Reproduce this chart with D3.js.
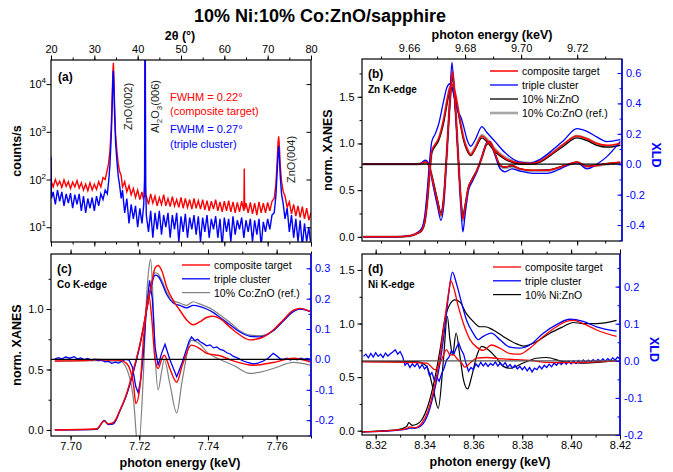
<!DOCTYPE html>
<html>
<head>
<meta charset="utf-8">
<script src="https://cdn.jsdelivr.net/npm/d3@7"></script>
<style>
  body { margin: 0; background: #fff; }
  text { font-family: "Liberation Sans", Arial, sans-serif; }
</style>
</head>
<body>
<svg id="chart" width="673" height="472"></svg>
<script>
// ---- data ----
const title = "10% Ni:10% Co:ZnO/sapphire";
const seriesNames = ["composite target", "triple cluster", "10% Ni:ZnO", "10% Co:ZnO (ref.)"];

// (a) XRD 2theta scan, [angle, counts/s]
const xrdComposite = [[20,95],[20.5,70],[21,100],[21.5,75],[22,92],[22.5,68],[23,98],[23.5,72],[24,90],[24.5,65],[25,88],[25.5,70],[26,95],[26.5,66],[27,85],[27.5,60],[28,80],[28.5,58],[29,85],[29.5,60],[30,80],[30.5,62],[31,90],[31.5,70],[32,110],[32.5,100],[33,160],[33.3,220],[33.6,400],[33.9,1200],[34.1,5000],[34.3,20000],[34.4,28000],[34.5,15000],[34.7,3000],[34.9,900],[35.2,400],[35.5,220],[35.8,150],[36.2,120],[36.5,70],[37,90],[37.5,55],[38,75],[38.5,48],[39,65],[39.5,42],[40,60],[40.5,38],[41,55],[41.3,40],[41.6,45],[41.7,30000],[41.8,45],[42,45],[42.5,30],[43,50],[43.5,32],[44,45],[44.5,28],[45,42],[45.5,30],[46,48],[46.5,28],[47,40],[47.5,27],[48,44],[48.5,28],[49,38],[49.5,26],[50,42],[50.5,25],[51,40],[51.5,26],[52,38],[52.5,24],[53,40],[53.5,25],[54,36],[54.5,24],[55,38],[55.5,23],[56,36],[56.5,22],[57,35],[57.5,24],[58,38],[58.5,22],[59,34],[59.5,21],[60,35],[60.5,22],[61,36],[61.5,21],[62,34],[62.5,20],[63,33],[63.5,21],[64,35],[64.5,22],[64.6,170],[64.7,24],[65,32],[65.5,20],[66,33],[66.5,19],[67,32],[67.5,18],[68,34],[68.5,20],[69,32],[69.5,20],[70,33],[70.5,22],[71,35],[71.5,40],[71.9,80],[72.2,250],[72.4,600],[72.55,800],[72.7,500],[72.9,200],[73.2,90],[73.6,55],[74,45],[74.5,26],[75,34],[75.5,19],[76,30],[76.5,17],[77,28],[77.5,16],[78,27],[78.5,15],[79,25],[79.5,14],[80,20]];
const xrdTriple = [[20,300],[20.1,40],[20.5,55],[21,30],[21.5,60],[22,35],[22.5,55],[23,28],[23.5,50],[24,32],[24.5,52],[25,25],[25.5,48],[26,30],[26.5,50],[27,22],[27.5,45],[28,20],[28.5,40],[29,25],[29.5,42],[30,22],[30.5,45],[31,28],[31.5,50],[32,38],[32.5,60],[33,50],[33.3,90],[33.6,200],[33.9,800],[34.1,3000],[34.3,15000],[34.4,19000],[34.5,9000],[34.7,2000],[34.9,600],[35.2,250],[35.5,120],[35.8,80],[36.2,40],[36.5,60],[37,20],[37.5,40],[38,12],[38.5,30],[39,15],[39.5,28],[40,10],[40.5,25],[41,12],[41.4,30],[41.6,100],[41.68,50000],[41.76,50000],[41.85,80],[42,18],[42.5,8],[43,22],[43.5,6],[44,20],[44.5,9],[45,22],[45.5,7],[46,18],[46.5,10],[47,20],[47.5,6],[48,18],[48.5,9],[49,20],[49.5,5],[50,17],[50.5,8],[51,19],[51.5,6],[52,16],[52.5,9],[53,18],[53.5,7],[54,17],[54.5,5],[55,16],[55.5,8],[56,18],[56.5,6],[57,15],[57.5,9],[58,17],[58.5,6],[59,15],[59.5,4],[60,16],[60.5,8],[61,15],[61.5,5],[62,17],[62.5,7],[63,14],[63.5,9],[64,16],[64.5,6],[65,14],[65.5,8],[66,15],[66.5,5],[67,14],[67.5,7],[68,15],[68.5,4],[69,13],[69.5,8],[70,15],[70.5,9],[71,18],[71.5,20],[71.9,45],[72.2,150],[72.4,350],[72.55,500],[72.7,300],[72.9,120],[73.2,50],[73.6,30],[74,15],[74.5,25],[75,8],[75.5,18],[76,6],[76.5,15],[77,5],[77.5,14],[78,4],[78.5,12],[79,5],[79.5,10],[80,4]];
const xrdAngleTicks = [20, 30, 40, 50, 60, 70, 80];
const xrdCountTicks = [10, 100, 1000, 10000];
const xrdPeakLabels = [["ZnO(002)", 34.4], ["Al2O3(006)", 41.7], ["ZnO(004)", 72.6]];
const fwhmComposite = ["FWHM = 0.22°", "(composite target)"];
const fwhmTriple = ["FWHM = 0.27°", "(triple cluster)"];

// (b) Zn K-edge, [keV, value]
const znXanesComposite = [[9.6437,0],[9.6556,0],[9.6604,0.01],[9.6627,0.035],[9.6645,0.07],[9.6657,0.18],[9.6665,0.39],[9.6673,0.68],[9.6681,0.92],[9.6693,0.99],[9.6705,1.05],[9.6723,1.25],[9.6735,1.45],[9.6746,1.6],[9.6755,1.63],[9.6764,1.55],[9.6776,1.35],[9.6785,1.2],[9.6795,1.05],[9.6806,0.95],[9.6820,0.88],[9.6836,0.95],[9.6860,1.08],[9.6877,1.04],[9.6907,0.93],[9.6943,0.84],[9.6996,0.79],[9.7032,0.785],[9.7068,0.81],[9.7104,0.88],[9.7151,0.99],[9.7199,1.08],[9.7235,1.05],[9.7270,1.0],[9.7306,0.98],[9.7354,1.0]];
const znXanesTriple = [[9.6437,0],[9.6556,0],[9.6604,0.012],[9.6627,0.04],[9.6645,0.09],[9.6657,0.25],[9.6665,0.5],[9.6673,0.8],[9.6681,1.02],[9.6693,1.1],[9.6705,1.2],[9.6723,1.45],[9.6735,1.6],[9.6746,1.64],[9.6755,1.58],[9.6764,1.45],[9.6776,1.33],[9.6785,1.28],[9.6795,1.18],[9.6806,1.05],[9.6820,0.97],[9.6836,1.04],[9.6860,1.18],[9.6877,1.12],[9.6907,1.02],[9.6943,0.9],[9.6996,0.8],[9.7032,0.79],[9.7068,0.83],[9.7104,0.91],[9.7151,1.03],[9.7199,1.16],[9.7235,1.13],[9.7270,1.07],[9.7306,1.02],[9.7354,1.04]];
const znXanesNi = [[9.6437,0],[9.6556,0],[9.6604,0.01],[9.6627,0.033],[9.6645,0.065],[9.6657,0.17],[9.6665,0.37],[9.6673,0.66],[9.6681,0.9],[9.6693,0.97],[9.6705,1.03],[9.6723,1.22],[9.6735,1.42],[9.6746,1.58],[9.6755,1.6],[9.6764,1.52],[9.6776,1.33],[9.6785,1.18],[9.6795,1.03],[9.6806,0.93],[9.6820,0.87],[9.6836,0.94],[9.6860,1.06],[9.6877,1.02],[9.6907,0.91],[9.6943,0.83],[9.6996,0.78],[9.7032,0.775],[9.7068,0.8],[9.7104,0.87],[9.7151,0.97],[9.7199,1.06],[9.7235,1.03],[9.7270,0.98],[9.7306,0.96],[9.7354,0.98]];
const znXanesCo = [[9.6437,0],[9.6556,0],[9.6604,0.01],[9.6627,0.035],[9.6645,0.07],[9.6657,0.18],[9.6665,0.38],[9.6673,0.67],[9.6681,0.91],[9.6693,0.98],[9.6705,1.04],[9.6723,1.24],[9.6735,1.44],[9.6746,1.6],[9.6755,1.62],[9.6764,1.54],[9.6776,1.35],[9.6785,1.2],[9.6795,1.05],[9.6806,0.95],[9.6820,0.89],[9.6836,0.96],[9.6860,1.09],[9.6877,1.05],[9.6907,0.94],[9.6943,0.85],[9.6996,0.8],[9.7032,0.79],[9.7068,0.82],[9.7104,0.89],[9.7151,0.99],[9.7199,1.08],[9.7235,1.05],[9.7270,1.0],[9.7306,0.97],[9.7354,0.99]];
const znXldComposite = [[9.6437,0],[9.6627,0],[9.6645,0.005],[9.6657,0.015],[9.6665,0.01],[9.6673,-0.02],[9.6687,-0.13],[9.6701,-0.24],[9.6714,-0.335],[9.6723,-0.24],[9.6735,0.09],[9.6746,0.42],[9.6755,0.61],[9.6764,0.42],[9.6776,0.03],[9.6785,-0.24],[9.6792,-0.36],[9.6800,-0.28],[9.6812,-0.15],[9.6824,-0.105],[9.6842,-0.04],[9.6860,0.048],[9.6877,0.136],[9.6889,0.147],[9.6907,0.07],[9.6925,-0.007],[9.6943,-0.018],[9.6967,-0.007],[9.6996,-0.03],[9.7044,-0.04],[9.7092,-0.04],[9.7140,-0.018],[9.7175,0.004],[9.7199,0.015],[9.7235,-0.015],[9.7270,-0.008],[9.7306,0.004],[9.7354,0.015]];
const znXldTriple = [[9.6437,0],[9.6627,0],[9.6645,0.01],[9.6657,0.026],[9.6665,0.02],[9.6673,-0.02],[9.6687,-0.15],[9.6701,-0.27],[9.6714,-0.37],[9.6723,-0.28],[9.6735,0.08],[9.6746,0.45],[9.6753,0.67],[9.6762,0.45],[9.6776,0.03],[9.6785,-0.28],[9.6792,-0.445],[9.6800,-0.33],[9.6812,-0.17],[9.6824,-0.12],[9.6842,-0.05],[9.6860,0.05],[9.6877,0.14],[9.6889,0.15],[9.6907,0.06],[9.6925,-0.03],[9.6943,-0.05],[9.6967,-0.03],[9.6996,-0.045],[9.7044,-0.06],[9.7092,-0.06],[9.7140,-0.03],[9.7175,0.0],[9.7199,0.01],[9.7235,-0.03],[9.7270,0.0],[9.7306,0.05],[9.7354,0.15]];
const znXldNi = [[9.6437,0],[9.6627,0],[9.6645,0.004],[9.6657,0.012],[9.6665,0.008],[9.6673,-0.02],[9.6687,-0.12],[9.6701,-0.23],[9.6714,-0.32],[9.6723,-0.23],[9.6735,0.08],[9.6746,0.4],[9.6755,0.57],[9.6764,0.4],[9.6776,0.03],[9.6785,-0.23],[9.6792,-0.34],[9.6800,-0.27],[9.6812,-0.15],[9.6824,-0.1],[9.6842,-0.04],[9.6860,0.045],[9.6877,0.13],[9.6889,0.14],[9.6907,0.065],[9.6925,-0.01],[9.6943,-0.02],[9.6967,-0.01],[9.6996,-0.03],[9.7044,-0.04],[9.7092,-0.038],[9.7140,-0.017],[9.7175,0.003],[9.7199,0.012],[9.7235,-0.012],[9.7270,-0.006],[9.7306,0.003],[9.7354,0.01]];
const znXldCo = [[9.6437,0],[9.6627,0],[9.6645,0.005],[9.6657,0.014],[9.6665,0.01],[9.6673,-0.02],[9.6687,-0.13],[9.6701,-0.25],[9.6714,-0.34],[9.6723,-0.25],[9.6735,0.08],[9.6746,0.42],[9.6755,0.6],[9.6764,0.42],[9.6776,0.03],[9.6785,-0.25],[9.6792,-0.37],[9.6800,-0.29],[9.6812,-0.16],[9.6824,-0.11],[9.6842,-0.045],[9.6860,0.045],[9.6877,0.135],[9.6889,0.145],[9.6907,0.065],[9.6925,-0.012],[9.6943,-0.025],[9.6967,-0.015],[9.6996,-0.035],[9.7044,-0.045],[9.7092,-0.045],[9.7140,-0.02],[9.7175,0.0],[9.7199,0.012],[9.7235,-0.015],[9.7270,-0.01],[9.7306,0.0],[9.7354,0.008]];
const znEnergyTicks = [9.66, 9.68, 9.70, 9.72];
const znXanesTicks = [0.0, 0.5, 1.0, 1.5];
const znXldTicks = [-0.4, -0.2, 0.0, 0.2, 0.4, 0.6];

// (c) Co K-edge
const coXanesComposite = [[7.6954,0],[7.7076,0.01],[7.7098,0.075],[7.7110,0.05],[7.7124,0.06],[7.7144,0.165],[7.7163,0.30],[7.7183,0.50],[7.7202,0.71],[7.7221,0.99],[7.7236,1.21],[7.7246,1.34],[7.7255,1.36],[7.7265,1.32],[7.7280,1.18],[7.7299,1.07],[7.7318,0.99],[7.7338,0.91],[7.7357,0.87],[7.7377,0.895],[7.7396,0.93],[7.7416,0.94],[7.7435,0.92],[7.7464,0.85],[7.7493,0.785],[7.7522,0.745],[7.7552,0.758],[7.7590,0.826],[7.7619,0.91],[7.7649,0.99],[7.7668,1.005],[7.7697,0.98]];
const coXanesTriple = [[7.6954,0],[7.7076,0.005],[7.7098,0.08],[7.7110,0.045],[7.7124,0.05],[7.7144,0.16],[7.7163,0.29],[7.7183,0.48],[7.7202,0.70],[7.7221,0.98],[7.7236,1.2],[7.7246,1.28],[7.7255,1.27],[7.7265,1.22],[7.7280,1.12],[7.7299,1.05],[7.7318,1.03],[7.7338,1.01],[7.7357,1.03],[7.7377,1.02],[7.7396,1.0],[7.7416,0.97],[7.7435,0.93],[7.7464,0.87],[7.7493,0.81],[7.7522,0.775],[7.7552,0.77],[7.7590,0.82],[7.7619,0.9],[7.7649,0.98],[7.7668,1.0],[7.7697,0.98]];
const coXanesCo = [[7.6954,0],[7.7076,0.005],[7.7098,0.07],[7.7110,0.045],[7.7124,0.05],[7.7144,0.16],[7.7163,0.29],[7.7183,0.49],[7.7202,0.71],[7.7221,0.99],[7.7236,1.22],[7.7246,1.3],[7.7255,1.29],[7.7265,1.24],[7.7280,1.14],[7.7299,1.07],[7.7318,1.05],[7.7338,1.03],[7.7357,1.06],[7.7377,1.04],[7.7396,1.02],[7.7416,0.99],[7.7435,0.95],[7.7464,0.89],[7.7493,0.82],[7.7522,0.785],[7.7552,0.78],[7.7590,0.82],[7.7619,0.9],[7.7649,0.98],[7.7668,1.0],[7.7697,0.98]];
const coXldComposite = [[7.6954,-0.005],[7.7037,-0.004],[7.7076,0.0],[7.7110,-0.002],[7.7144,-0.003],[7.7163,-0.013],[7.7183,-0.08],[7.7190,-0.145],[7.7202,-0.09],[7.7212,0.064],[7.7221,0.17],[7.7228,0.21],[7.7236,0.14],[7.7246,0.0],[7.7255,-0.03],[7.7265,0.0],[7.7273,0.014],[7.7289,-0.03],[7.7309,-0.075],[7.7325,-0.02],[7.7352,0.047],[7.7377,0.035],[7.7396,0.02],[7.7435,0.012],[7.7474,-0.005],[7.7532,-0.019],[7.7590,-0.01],[7.7649,0.004],[7.7697,-0.008]];
const coXldTriple = [[7.6954,0.002],[7.6965,0.006],[7.6975,0.001],[7.6985,0.008],[7.6998,0.004],[7.7010,0.009],[7.7020,0.002],[7.7030,0.005],[7.7040,-0.001],[7.7050,0.003],[7.7060,-0.003],[7.7070,0.001],[7.7080,-0.004],[7.7090,-0.002],[7.7100,-0.008],[7.7110,-0.006],[7.7120,-0.013],[7.7130,-0.009],[7.7140,-0.012],[7.7150,-0.005],[7.7160,0.0],[7.7170,-0.002],[7.7180,-0.025],[7.7190,-0.09],[7.7197,-0.11],[7.7205,-0.06],[7.7212,0.02],[7.7221,0.17],[7.7230,0.26],[7.7238,0.2],[7.7246,0.04],[7.7255,-0.02],[7.7265,0.02],[7.7275,0.05],[7.7289,0.0],[7.7309,-0.057],[7.7325,-0.01],[7.7345,0.06],[7.7352,0.074],[7.7362,0.062],[7.7370,0.066],[7.7377,0.058],[7.7387,0.052],[7.7396,0.045],[7.7406,0.048],[7.7416,0.038],[7.7426,0.041],[7.7435,0.033],[7.7445,0.03],[7.7455,0.022],[7.7465,0.018],[7.7474,0.01],[7.7484,0.006],[7.7494,0.0],[7.7505,-0.006],[7.7515,-0.01],[7.7532,-0.015],[7.7545,-0.012],[7.7560,-0.006],[7.7575,0.004],[7.7590,0.02],[7.7600,0.012],[7.7610,0.002],[7.7619,0.0],[7.7630,0.004],[7.7640,-0.002],[7.7650,0.003],[7.7660,-0.001],[7.7670,0.004],[7.7680,0.0],[7.7690,0.003],[7.7697,0.0]];
const coXldCo = [[7.6954,-0.006],[7.7076,-0.004],[7.7144,-0.006],[7.7163,-0.03],[7.7183,-0.13],[7.7197,-0.3],[7.7212,-0.05],[7.7221,0.2],[7.7228,0.3],[7.7233,0.33],[7.7240,0.2],[7.7246,0.02],[7.7255,-0.1],[7.7265,-0.04],[7.7273,0.0],[7.7289,-0.08],[7.7309,-0.176],[7.7325,-0.07],[7.7352,0.063],[7.7377,0.05],[7.7396,0.025],[7.7435,0.0],[7.7474,-0.019],[7.7522,-0.046],[7.7552,-0.042],[7.7590,-0.03],[7.7649,-0.01],[7.7697,-0.019]];
const coEnergyTicks = [7.70, 7.72, 7.74, 7.76];
const coXanesTicks = [0.0, 0.5, 1.0];
const coXldTicks = [-0.2, -0.1, 0.0, 0.1, 0.2, 0.3];

// (d) Ni K-edge
const niXanesComposite = [[8.3144,-0.01],[8.3286,0.006],[8.3327,0.02],[8.3340,0.035],[8.3361,0.028],[8.3388,0.068],[8.3415,0.19],[8.3443,0.44],[8.3463,0.69],[8.3484,1.06],[8.3500,1.31],[8.3507,1.40],[8.3520,1.33],[8.3538,1.16],[8.3559,1.0],[8.3586,0.85],[8.3613,0.78],[8.3640,0.75],[8.3674,0.8],[8.3708,0.77],[8.3749,0.72],[8.3790,0.715],[8.3831,0.77],[8.3886,0.88],[8.3940,0.97],[8.3981,1.02],[8.4008,1.03],[8.4049,1.0],[8.4104,0.94],[8.4186,0.88]];
const niXanesTriple = [[8.3144,-0.01],[8.3286,0.004],[8.3327,0.015],[8.3340,0.025],[8.3361,0.022],[8.3388,0.05],[8.3415,0.16],[8.3443,0.40],[8.3463,0.63],[8.3484,0.98],[8.3500,1.3],[8.3514,1.48],[8.3531,1.37],[8.3552,1.19],[8.3572,1.03],[8.3599,0.91],[8.3620,0.85],[8.3640,0.88],[8.3674,0.91],[8.3708,0.85],[8.3749,0.78],[8.3790,0.77],[8.3831,0.80],[8.3886,0.91],[8.3940,0.99],[8.3995,1.04],[8.4049,1.02],[8.4104,0.97],[8.4186,0.93]];
const niXanesNi = [[8.3144,-0.01],[8.3286,0.008],[8.3327,0.04],[8.3336,0.075],[8.3350,0.05],[8.3368,0.06],[8.3388,0.1],[8.3415,0.24],[8.3443,0.5],[8.3463,0.75],[8.3484,1.05],[8.3504,1.18],[8.3524,1.22],[8.3545,1.20],[8.3572,1.09],[8.3599,1.02],[8.3627,0.97],[8.3647,0.97],[8.3681,0.94],[8.3722,0.88],[8.3777,0.81],[8.3804,0.79],[8.3858,0.83],[8.3913,0.91],[8.3967,0.97],[8.4008,1.01],[8.4049,1.0],[8.4104,1.0],[8.4186,1.03]];
const niXldComposite = [[8.3144,-0.002],[8.3409,-0.006],[8.3443,-0.024],[8.3470,0.003],[8.3490,0.03],[8.3504,0.016],[8.3520,0.016],[8.3531,0.007],[8.3552,-0.006],[8.3565,-0.017],[8.3586,-0.006],[8.3613,0.007],[8.3654,0.009],[8.3722,0.005],[8.3777,0.003],[8.3831,0.001],[8.3899,-0.004],[8.3967,-0.005],[8.4186,0.0]];
const niXldTriple = [[8.315,0.012],[8.316,0.018],[8.317,0.008],[8.318,0.02],[8.319,0.01],[8.320,0.022],[8.321,0.012],[8.322,0.018],[8.323,0.009],[8.324,0.021],[8.325,0.013],[8.326,0.019],[8.327,0.024],[8.328,0.03],[8.329,0.018],[8.330,0.025],[8.331,0.012],[8.332,-0.012],[8.333,-0.005],[8.334,-0.018],[8.335,-0.008],[8.336,-0.016],[8.337,-0.006],[8.338,-0.02],[8.339,-0.01],[8.340,-0.022],[8.341,-0.015],[8.342,-0.04],[8.343,-0.032],[8.344,-0.052],[8.345,-0.045],[8.346,-0.055],[8.347,-0.035],[8.348,-0.02],[8.349,0.002],[8.350,0.01],[8.351,0.028],[8.352,0.018],[8.353,0.035],[8.354,0.048],[8.355,0.03],[8.356,0.018],[8.357,-0.008],[8.358,-0.028],[8.359,-0.018],[8.360,-0.024],[8.361,-0.008],[8.362,-0.016],[8.363,-0.004],[8.364,-0.014],[8.365,-0.006],[8.366,-0.015],[8.367,-0.007],[8.368,-0.012],[8.369,-0.003],[8.370,-0.014],[8.371,-0.006],[8.372,-0.013],[8.373,-0.005],[8.374,-0.017],[8.375,-0.01],[8.376,-0.019],[8.377,-0.012],[8.378,-0.022],[8.379,-0.015],[8.380,-0.024],[8.381,-0.016],[8.382,-0.027],[8.383,-0.018],[8.384,-0.03],[8.385,-0.02],[8.386,-0.024],[8.387,-0.014],[8.388,-0.022],[8.389,-0.012],[8.390,-0.018],[8.391,-0.009],[8.392,-0.016],[8.393,-0.006],[8.394,-0.012],[8.395,-0.004],[8.396,-0.01],[8.397,-0.002],[8.398,-0.009],[8.399,-0.001],[8.400,-0.008],[8.401,0.0],[8.402,-0.007],[8.403,0.001],[8.404,-0.006],[8.405,0.002],[8.406,-0.005],[8.407,0.002],[8.408,-0.004],[8.409,0.003],[8.410,-0.003],[8.411,0.004],[8.412,-0.002],[8.413,0.005],[8.414,-0.001],[8.415,0.006],[8.416,0.0],[8.417,0.008],[8.418,0.002],[8.419,0.01],[8.420,0.006]];
const niXldNi = [[8.3144,-0.002],[8.3368,-0.002],[8.3409,-0.015],[8.3436,-0.078],[8.3456,-0.128],[8.3477,0.0],[8.3493,0.12],[8.3504,0.057],[8.3515,0.016],[8.3529,0.075],[8.3545,0.012],[8.3559,-0.05],[8.3576,-0.076],[8.3593,-0.042],[8.3613,0.012],[8.3634,0.039],[8.3661,0.03],[8.3695,0.007],[8.3722,-0.015],[8.3749,-0.02],[8.3804,-0.006],[8.3858,0.007],[8.3899,0.009],[8.3967,-0.002],[8.4049,-0.006],[8.4186,0.001]];
const niEnergyTicks = [8.32, 8.34, 8.36, 8.38, 8.40, 8.42];
const niXanesTicks = [0.0, 0.5, 1.0, 1.5];
const niXldTicks = [-0.2, -0.1, 0.0, 0.1, 0.2];

// ---- drawing ----
const RED = "#ff0000", BLUE = "#0000ff", BLACK = "#000000";
const svg = d3.select("#chart");
const FONT = "'Liberation Sans', Arial, sans-serif";

svg.append("text").attr("x", 320).attr("y", 22).attr("text-anchor", "middle")
  .style("font-size", "18px").style("font-weight", "bold").text(title);

function addAxis(parent, orient, scale, pos, major, minor, opts) {
  const make = { top: d3.axisTop, bottom: d3.axisBottom, left: d3.axisLeft, right: d3.axisRight }[orient];
  const tr = (orient === "top" || orient === "bottom") ? `translate(0,${pos})` : `translate(${pos},0)`;
  const dir = opts.inward ? -1 : 1;
  const color = opts.color || BLACK;
  const gMin = parent.append("g").attr("transform", tr)
    .call(make(scale).tickValues(minor).tickSize(2.5 * dir).tickSizeOuter(0).tickFormat(""));
  const gMaj = parent.append("g").attr("transform", tr)
    .call(make(scale).tickValues(major).tickSize(4.5 * dir).tickSizeOuter(0)
      .tickPadding(opts.pad == null ? 3 : opts.pad).tickFormat(opts.fmt || (() => "")));
  [gMin, gMaj].forEach(g => {
    g.attr("font-family", null).attr("font-size", null);
    g.select(".domain").remove();
    g.selectAll("line").attr("stroke", color).attr("stroke-width", 1);
    g.selectAll("text").attr("fill", color).style("font-size", "11px").style("font-family", FONT);
  });
  return gMaj;
}

function minorTicks(domain, step) {
  const lo = Math.min(domain[0], domain[1]), hi = Math.max(domain[0], domain[1]);
  return d3.range(Math.ceil(lo / step - 1e-6) * step, hi + 1e-9, step).map(v => +v.toFixed(4));
}

function axisTitle(x, y, txt, rot, color) {
  svg.append("text").attr("transform", `translate(${x},${y}) rotate(${rot})`)
    .attr("text-anchor", "middle").attr("fill", color || BLACK)
    .style("font-size", "12.5px").style("font-weight", "bold").text(txt);
}

function clipFor(id, box) {
  svg.append("clipPath").attr("id", id).append("rect")
    .attr("x", box.left).attr("y", box.top)
    .attr("width", box.right - box.left).attr("height", box.bottom - box.top);
}

// panel (a)
{
  const box = { left: 51, right: 311, top: 60, bottom: 242 };
  const x = d3.scaleLinear().domain([20, 80]).range([box.left, box.right]);
  const y = d3.scaleLog().domain([4.9, 32000]).range([box.bottom, box.top]);
  clipFor("clipA", box);
  const g = svg.append("g");
  const line = d3.line().x(d => x(d[0])).y(d => y(d[1]));
  const plot = g.append("g").attr("clip-path", "url(#clipA)");
  plot.append("path").datum(xrdComposite).attr("d", line).attr("fill", "none").attr("stroke", RED).attr("stroke-width", 1.4);
  plot.append("path").datum(xrdTriple).attr("d", line).attr("fill", "none").attr("stroke", BLUE).attr("stroke-width", 1.4);

  g.append("rect").attr("x", box.left).attr("y", box.top).attr("width", box.right - box.left)
    .attr("height", box.bottom - box.top).attr("fill", "none").attr("stroke", BLACK).attr("stroke-width", 1.2);
  addAxis(g, "top", x, box.top, xrdAngleTicks, minorTicks([20, 80], 5), { fmt: d => d, pad: 3 });
  addAxis(g, "bottom", x, box.bottom, xrdAngleTicks, minorTicks([20, 80], 5), {});
  addAxis(g, "left", y, box.left, xrdCountTicks, [], {});
  addAxis(g, "right", y, box.right, xrdCountTicks, [], { inward: true });
  xrdCountTicks.forEach(v => {
    const t = g.append("text").attr("x", box.left - 5).attr("y", y(v) + 4).attr("text-anchor", "end")
      .style("font-size", "11px");
    t.append("tspan").text("10");
    t.append("tspan").attr("dy", -5).style("font-size", "8px").text(Math.round(Math.log10(v)));
  });

  // peak labels, rotated, baseline just right of each peak
  const labelShift = [19, 14, 16];
  const labelBottom = [130, 133, 183];
  xrdPeakLabels.forEach((p, i) => {
    const t = g.append("text")
      .attr("transform", `translate(${x(p[1]) + labelShift[i]},${labelBottom[i]}) rotate(-90)`)
      .attr("fill", "#222").style("font-size", "11px");
    if (p[0].startsWith("Al2O3")) {
      t.append("tspan").text("Al");
      t.append("tspan").attr("dy", 3).style("font-size", "8px").text("2");
      t.append("tspan").attr("dy", -3).text("O");
      t.append("tspan").attr("dy", 3).style("font-size", "8px").text("3");
      t.append("tspan").attr("dy", -3).text("(006)");
    } else {
      t.text(p[0]);
    }
  });
  fwhmComposite.forEach((s, i) => g.append("text").attr("x", 170).attr("y", 101 + i * 13.5).attr("fill", RED).style("font-size", "11px").text(s));
  fwhmTriple.forEach((s, i) => g.append("text").attr("x", 170).attr("y", 133 + i * 14.5).attr("fill", BLUE).style("font-size", "11px").text(s));

  g.append("text").attr("x", 58).attr("y", 81).style("font-size", "12px").style("font-weight", "bold").text("(a)");
  axisTitle(21, 151, "counts/s", -90);
  axisTitle(180, 40, "2\u03b8 (\u00b0)", 0);
}

function xasPanel(cfg) {
  const box = cfg.box;
  const x = d3.scaleLinear().domain(cfg.xDomain).range([box.left, box.right]);
  const yL = d3.scaleLinear().domain(cfg.yDomain).range([box.bottom, box.top]);
  const yR = d3.scaleLinear().domain(cfg.xldDomain).range([box.bottom, box.top]);
  clipFor(cfg.id, box);
  const g = svg.append("g");
  const plot = g.append("g").attr("clip-path", `url(#${cfg.id})`);
  const lineL = d3.line().x(d => x(d[0])).y(d => yL(d[1])).curve(d3.curveMonotoneX);
  const lineR = d3.line().x(d => x(d[0])).y(d => yR(d[1])).curve(d3.curveMonotoneX);
  const lineRaw = d3.line().x(d => x(d[0])).y(d => yR(d[1]));
  cfg.series.forEach(s => {
    plot.append("path").datum(s.xanes).attr("d", lineL).attr("fill", "none")
      .attr("stroke", s.color).attr("stroke-width", s.width);
    plot.append("path").datum(s.xld).attr("d", s.noisy ? lineRaw : lineR).attr("fill", "none")
      .attr("stroke", s.color).attr("stroke-width", s.width);
  });
  plot.append("line").attr("x1", box.left).attr("x2", box.right).attr("y1", yR(0)).attr("y2", yR(0))
    .attr("stroke", cfg.zeroColor).attr("stroke-width", 1.3);

  g.append("rect").attr("x", box.left).attr("y", box.top).attr("width", box.right - box.left)
    .attr("height", box.bottom - box.top).attr("fill", "none").attr("stroke", BLACK).attr("stroke-width", 1.2);
  g.append("line").attr("x1", box.right).attr("x2", box.right).attr("y1", box.top).attr("y2", box.bottom)
    .attr("stroke", BLUE).attr("stroke-width", 1.4);

  const minX = minorTicks(cfg.xDomain, 0.01);
  const fmt2 = d => d.toFixed(2), fmt1 = d => d.toFixed(1);
  addAxis(g, "top", x, box.top, cfg.xTicks, minX, { fmt: cfg.xTop ? fmt2 : null, pad: 3 });
  addAxis(g, "bottom", x, box.bottom, cfg.xTicks, minX, { fmt: cfg.xTop ? null : fmt2, pad: 2 });
  addAxis(g, "left", yL, box.left, cfg.yTicks, minorTicks(cfg.yDomain, 0.25), { fmt: fmt1, pad: 3 });
  addAxis(g, "right", yR, box.right, cfg.xldTicks, minorTicks(cfg.xldDomain, cfg.xldMinor), { fmt: fmt1, inward: true, pad: 4, color: BLUE });

  g.append("text").attr("x", box.left + 6).attr("y", box.top + 19).style("font-size", "12px").style("font-weight", "bold").text(cfg.tag);
  g.append("text").attr("x", box.left + 6).attr("y", box.top + 34).style("font-size", "10px").style("font-weight", "bold").text(cfg.edge);

  const leg = g.append("g");
  cfg.series.slice().sort((a, b) => a.order - b.order).forEach((s, i) => {
    const ly = cfg.legend.y + i * cfg.legend.dy;
    leg.append("line").attr("x1", cfg.legend.x).attr("x2", cfg.legend.x + 28).attr("y1", ly).attr("y2", ly)
      .attr("stroke", s.color).attr("stroke-width", s.width);
    leg.append("text").attr("x", cfg.legend.x + 32).attr("y", ly + 4).style("font-size", "10.5px").text(s.name);
  });

  if (cfg.yTitle) axisTitle(box.left - 30, (box.top + box.bottom) / 2, "norm. XANES", -90);
  if (cfg.xldTitle) axisTitle(box.right + 30, (box.top + box.bottom) / 2 + 5, "XLD", 90, BLUE);
  const xt = cfg.xTop ? box.top - 20 : box.bottom + 31;
  axisTitle((box.left + box.right) / 2 + (cfg.xTop ? 0 : -1), xt, "photon energy (keV)", 0);
}

// panel (b)
xasPanel({
  id: "clipB", tag: "(b)", edge: "Zn K-edge",
  box: { left: 362, right: 622, top: 59, bottom: 241 },
  xDomain: [9.6432, 9.736], yDomain: [-0.045, 1.905], xldDomain: [-0.505, 0.692],
  xTicks: znEnergyTicks, yTicks: znXanesTicks, xldTicks: znXldTicks, xldMinor: 0.1,
  xTop: true, yTitle: true, xldTitle: true, zeroColor: BLACK,
  legend: { x: 490, y: 71, dy: 14 },
  series: [
    { name: seriesNames[3], color: "#a6a6a6", width: 2.6, xanes: znXanesCo, xld: znXldCo, order: 3 },
    { name: seriesNames[2], color: BLACK, width: 1.3, xanes: znXanesNi, xld: znXldNi, order: 2 },
    { name: seriesNames[1], color: BLUE, width: 1.3, xanes: znXanesTriple, xld: znXldTriple, order: 1 },
    { name: seriesNames[0], color: RED, width: 1.5, xanes: znXanesComposite, xld: znXldComposite, order: 0 }
  ]
});

// panel (c)
xasPanel({
  id: "clipC", tag: "(c)", edge: "Co K-edge",
  box: { left: 51, right: 311, top: 254, bottom: 436 },
  xDomain: [7.6943, 7.7700], yDomain: [-0.05, 1.455], xldDomain: [-0.252, 0.347],
  xTicks: coEnergyTicks, yTicks: coXanesTicks, xldTicks: coXldTicks, xldMinor: 0.05,
  xTop: false, yTitle: true, xldTitle: false, zeroColor: BLACK,
  legend: { x: 182, y: 265, dy: 13.8 },
  series: [
    { name: seriesNames[3], color: "#808080", width: 1.2, xanes: coXanesCo, xld: coXldCo, order: 2 },
    { name: seriesNames[1], color: BLUE, width: 1.3, xanes: coXanesTriple, xld: coXldTriple, order: 1, noisy: true },
    { name: seriesNames[0], color: RED, width: 1.4, xanes: coXanesComposite, xld: coXldComposite, order: 0 }
  ]
});

// panel (d)
xasPanel({
  id: "clipD", tag: "(d)", edge: "Ni K-edge",
  box: { left: 362, right: 620, top: 254, bottom: 435 },
  xDomain: [8.3144, 8.42], yDomain: [-0.04, 1.649], xldDomain: [-0.2, 0.288],
  xTicks: niEnergyTicks, yTicks: niXanesTicks, xldTicks: niXldTicks, xldMinor: 0.05,
  xTop: false, yTitle: false, xldTitle: true, zeroColor: "#555555",
  legend: { x: 493, y: 267, dy: 13.8 },
  series: [
    { name: seriesNames[2], color: BLACK, width: 1.2, xanes: niXanesNi, xld: niXldNi, order: 2 },
    { name: seriesNames[1], color: BLUE, width: 1.3, xanes: niXanesTriple, xld: niXldTriple, order: 1, noisy: true },
    { name: seriesNames[0], color: RED, width: 1.3, xanes: niXanesComposite, xld: niXldComposite, order: 0 }
  ]
});
</script>
</body>
</html>
